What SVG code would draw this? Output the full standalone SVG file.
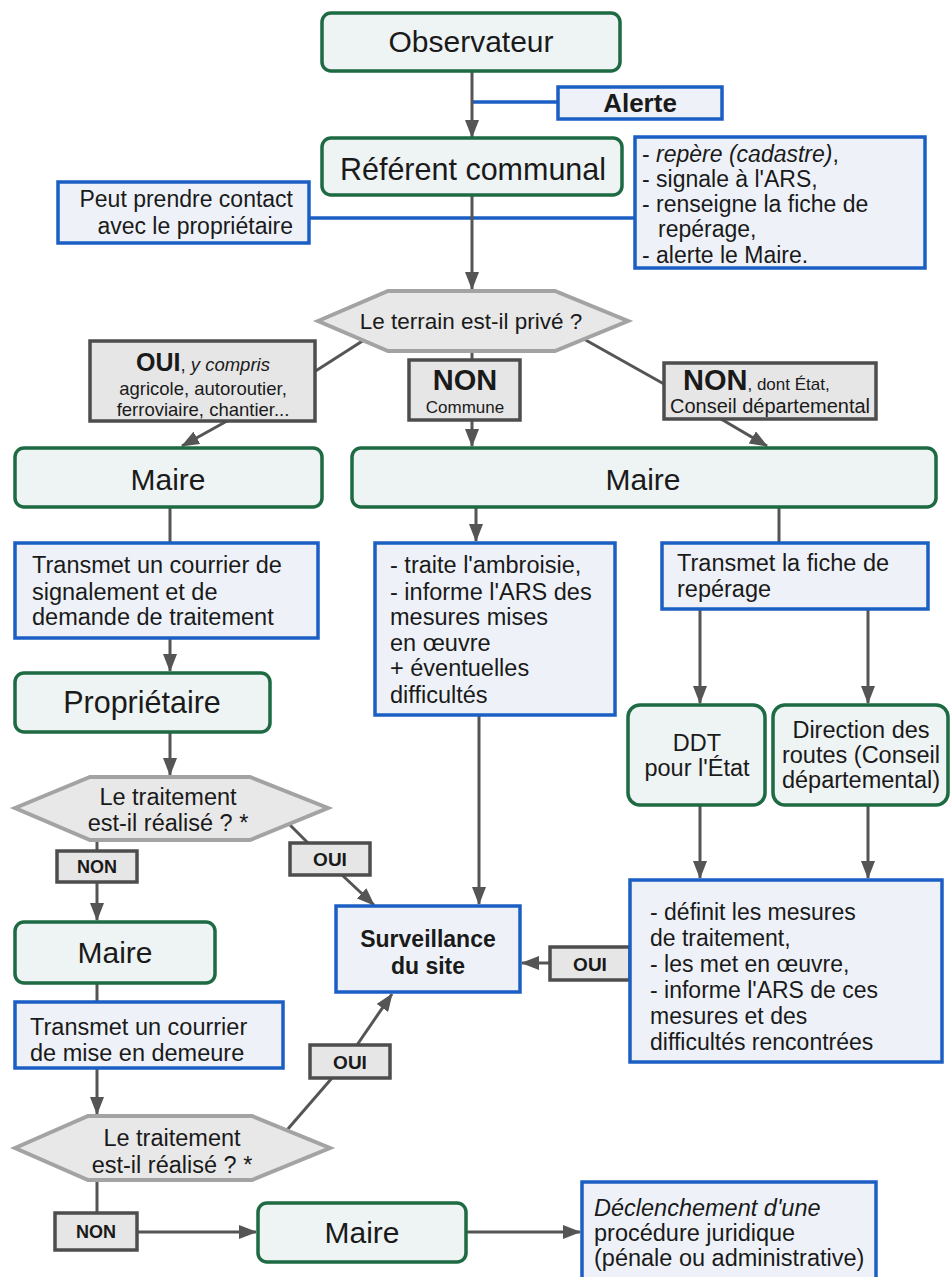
<svg xmlns="http://www.w3.org/2000/svg" width="950" height="1277" viewBox="0 0 950 1277">
<defs>
<marker id="ah" viewBox="0 0 18 14" refX="17" refY="7" markerWidth="18" markerHeight="14" markerUnits="userSpaceOnUse" orient="auto"><path d="M0,0 L18,7 L0,14 z" fill="#555"/></marker>
<style>
.g{fill:#eef3f4;stroke:#1d6a43;stroke-width:3.5}
.b{fill:#eef2f8;stroke:#1b5ec4;stroke-width:3.5}
.h{fill:#e8e8e8;stroke:#a3a3a3;stroke-width:4}
.l{fill:#e6e6e6;stroke:#4d4d4d;stroke-width:3.5}
.c{stroke:#555;stroke-width:3;fill:none}
.ca{stroke:#555;stroke-width:3;fill:none;marker-end:url(#ah)}
.bl{stroke:#1b5ec4;stroke-width:3.5;fill:none}
text{font-family:"Liberation Sans",Arial,sans-serif;fill:#1a1a1a}
.m{text-anchor:middle}
.e{text-anchor:end}
.bd{font-weight:bold}
.it{font-style:italic}
.t{font-size:23.5px}
</style>
</defs>
<rect width="950" height="1277" fill="#ffffff"/>

<g id="connectors">
<line class="bl" x1="472" y1="102" x2="558" y2="102"/>
<line class="bl" x1="309" y1="218" x2="635" y2="218"/>
<line class="ca" x1="472" y1="72" x2="472" y2="137"/>
<line class="ca" x1="472" y1="196" x2="472" y2="289"/>
<line class="c" x1="364" y1="340" x2="314" y2="372"/>
<line class="c" x1="472" y1="351" x2="472" y2="360"/>
<line class="c" x1="582" y1="338" x2="664" y2="384"/>
<line class="ca" x1="227" y1="421" x2="182" y2="446"/>
<line class="ca" x1="472" y1="420" x2="472" y2="446"/>
<line class="ca" x1="721" y1="419" x2="767" y2="446"/>
<line class="c" x1="170" y1="508" x2="170" y2="543"/>
<line class="ca" x1="476" y1="508" x2="476" y2="541"/>
<line class="c" x1="779" y1="508" x2="779" y2="543"/>
<line class="ca" x1="170" y1="638" x2="170" y2="671"/>
<line class="ca" x1="170" y1="732" x2="170" y2="775"/>
<line class="ca" x1="700" y1="610" x2="700" y2="703"/>
<line class="ca" x1="868" y1="610" x2="868" y2="703"/>
<line class="ca" x1="479" y1="715" x2="479" y2="904"/>
<line class="ca" x1="700" y1="805" x2="700" y2="878"/>
<line class="ca" x1="868" y1="805" x2="868" y2="878"/>
<line class="c" x1="97" y1="840" x2="97" y2="851"/>
<line class="ca" x1="97" y1="882" x2="97" y2="920"/>
<line class="c" x1="285" y1="820" x2="308" y2="843"/>
<line class="ca" x1="342" y1="875" x2="374" y2="905"/>
<line class="ca" x1="550" y1="963" x2="522" y2="963"/>
<line class="c" x1="97" y1="983" x2="97" y2="1002"/>
<line class="ca" x1="97" y1="1068" x2="97" y2="1114"/>
<line class="c" x1="287" y1="1130" x2="332" y2="1078"/>
<line class="ca" x1="357" y1="1045" x2="392" y2="994"/>
<line class="c" x1="97" y1="1180" x2="97" y2="1213"/>
<line class="ca" x1="137" y1="1232" x2="256" y2="1232"/>
<line class="ca" x1="466" y1="1232" x2="580" y2="1232"/>
</g>

<g id="observateur"><rect class="g" x="322" y="13" width="298" height="58" rx="9"/><text class="m" x="471" y="52" font-size="30">Observateur</text></g>
<g id="alerte"><rect class="b" x="558" y="87" width="164" height="32"/><text class="m bd" x="640" y="112" font-size="26">Alerte</text></g>
<g id="referent"><rect class="g" x="322" y="138" width="300" height="57" rx="9"/><text class="m" x="473" y="180" font-size="30.5">Référent communal</text></g>
<g id="referent-actions"><rect class="b" x="635" y="137" width="290" height="131"/>
<text x="642" y="162" font-size="23">- <tspan class="it">repère (cadastre)</tspan>,</text>
<text x="642" y="187" font-size="23">- signale à l'ARS,</text>
<text x="642" y="212" font-size="23">- renseigne la fiche de</text>
<text x="658" y="237" font-size="23">repérage,</text>
<text x="642" y="263" font-size="23">- alerte le Maire.</text></g>
<g id="contact"><rect class="b" x="58" y="182" width="251" height="61"/>
<text class="e" x="293" y="207" font-size="23">Peut prendre contact</text>
<text class="e" x="293" y="234" font-size="23">avec le propriétaire</text></g>

<g id="q-terrain"><polygon class="h" points="318,321 388,291 555,291 628,321 555,351 388,351"/><text class="m" x="471" y="329" font-size="22.5">Le terrain est-il privé ?</text></g>

<g id="lbl-oui-prive"><rect class="l" x="90" y="341" width="225" height="80"/>
<text class="m" x="203" y="371"><tspan class="bd" font-size="25">OUI</tspan><tspan font-size="18.5">, </tspan><tspan class="it" font-size="18.5">y compris</tspan></text>
<text class="m" x="203" y="395" font-size="18.5">agricole, autoroutier,</text>
<text class="m" x="203" y="416" font-size="18.5">ferroviaire, chantier...</text></g>
<g id="lbl-non-commune"><rect class="l" x="409" y="360" width="111" height="60"/>
<text class="m bd" x="465" y="390" font-size="29">NON</text>
<text class="m" x="465" y="413" font-size="17">Commune</text></g>
<g id="lbl-non-etat"><rect class="l" x="664" y="363" width="212" height="56"/>
<text x="683" y="390"><tspan class="bd" font-size="29">NON</tspan><tspan font-size="17">, dont État,</tspan></text>
<text class="m" x="770" y="413" font-size="20">Conseil départemental</text></g>

<g id="maire-1"><rect class="g" x="15" y="448" width="307" height="59" rx="9"/><text class="m" x="168" y="490" font-size="30">Maire</text></g>
<g id="maire-2"><rect class="g" x="352" y="448" width="584" height="59" rx="9"/><text class="m" x="643" y="490" font-size="30">Maire</text></g>

<g id="courrier-signalement"><rect class="b" x="15" y="543" width="303" height="95"/>
<text class="t" x="32" y="573">Transmet un courrier de</text>
<text class="t" x="32" y="600">signalement et de</text>
<text class="t" x="32" y="625">demande de traitement</text></g>
<g id="traite"><rect class="b" x="375" y="543" width="240" height="172"/>
<text class="t" x="390" y="573">- traite l'ambroisie,</text>
<text class="t" x="390" y="600">- informe l'ARS des</text>
<text class="t" x="390" y="625">mesures mises</text>
<text class="t" x="390" y="651">en œuvre</text>
<text class="t" x="390" y="676">+ éventuelles</text>
<text class="t" x="390" y="703">difficultés</text></g>
<g id="fiche"><rect class="b" x="662" y="543" width="266" height="66"/>
<text class="t" x="677" y="571">Transmet la fiche de</text>
<text class="t" x="677" y="597">repérage</text></g>

<g id="proprietaire"><rect class="g" x="15" y="673" width="255" height="59" rx="9"/><text class="m" x="142" y="713" font-size="30.5">Propriétaire</text></g>
<g id="ddt"><rect class="g" x="628" y="705" width="137" height="100" rx="12"/>
<text class="m t" x="697" y="751">DDT</text>
<text class="m t" x="697" y="776">pour l'État</text></g>
<g id="direction-routes"><rect class="g" x="773" y="705" width="175" height="100" rx="12"/>
<text class="m t" x="861" y="738">Direction des</text>
<text class="m t" x="861" y="763">routes (Conseil</text>
<text class="m t" x="861" y="788">départemental)</text></g>

<g id="q-traitement-1"><polygon class="h" points="15,808 90,777 250,777 328,808 250,840 90,840"/>
<text class="m t" x="168" y="805">Le traitement</text>
<text class="m t" x="168" y="831">est-il réalisé ? *</text></g>
<g id="lbl-non-1"><rect class="l" x="57" y="851" width="80" height="31"/><text class="m bd" x="97" y="873" font-size="18">NON</text></g>
<g id="lbl-oui-1"><rect class="l" x="290" y="843" width="80" height="32"/><text class="m bd" x="330" y="866" font-size="19">OUI</text></g>

<g id="surveillance"><rect class="b" x="336" y="906" width="184" height="86"/>
<text class="m bd" x="428" y="947" font-size="23">Surveillance</text>
<text class="m bd" x="428" y="974" font-size="23">du site</text></g>
<g id="lbl-oui-3"><rect class="l" x="550" y="947" width="80" height="33"/><text class="m bd" x="590" y="971" font-size="19">OUI</text></g>
<g id="mesures"><rect class="b" x="630" y="880" width="312" height="182"/>
<text x="650" y="920" font-size="23">- définit les mesures</text>
<text x="650" y="946" font-size="23">de traitement,</text>
<text x="650" y="972" font-size="23">- les met en œuvre,</text>
<text x="650" y="998" font-size="23">- informe l'ARS de ces</text>
<text x="650" y="1024" font-size="23">mesures et des</text>
<text x="650" y="1050" font-size="23">difficultés rencontrées</text></g>

<g id="maire-3"><rect class="g" x="15" y="922" width="200" height="61" rx="9"/><text class="m" x="115" y="963" font-size="30">Maire</text></g>
<g id="mise-en-demeure"><rect class="b" x="15" y="1002" width="268" height="66"/>
<text x="30" y="1035" font-size="23.5">Transmet un courrier</text>
<text x="30" y="1061" font-size="23.5">de mise en demeure</text></g>
<g id="lbl-oui-2"><rect class="l" x="310" y="1045" width="80" height="33"/><text class="m bd" x="350" y="1069" font-size="19">OUI</text></g>
<g id="q-traitement-2"><polygon class="h" points="15,1148 88,1116 252,1116 330,1148 252,1180 88,1180"/>
<text class="m t" x="172" y="1146">Le traitement</text>
<text class="m t" x="172" y="1173">est-il réalisé ? *</text></g>
<g id="lbl-non-2"><rect class="l" x="55" y="1213" width="82" height="37"/><text class="m bd" x="96" y="1238" font-size="18">NON</text></g>
<g id="maire-4"><rect class="g" x="258" y="1203" width="208" height="59" rx="9"/><text class="m" x="362" y="1243" font-size="30">Maire</text></g>
<g id="procedure"><rect class="b" x="582" y="1182" width="294" height="110"/>
<text class="it t" x="594" y="1216">Déclenchement d'une</text>
<text class="t" x="594" y="1241">procédure juridique</text>
<text class="t" x="594" y="1266">(pénale ou administrative)</text></g>
</svg>
